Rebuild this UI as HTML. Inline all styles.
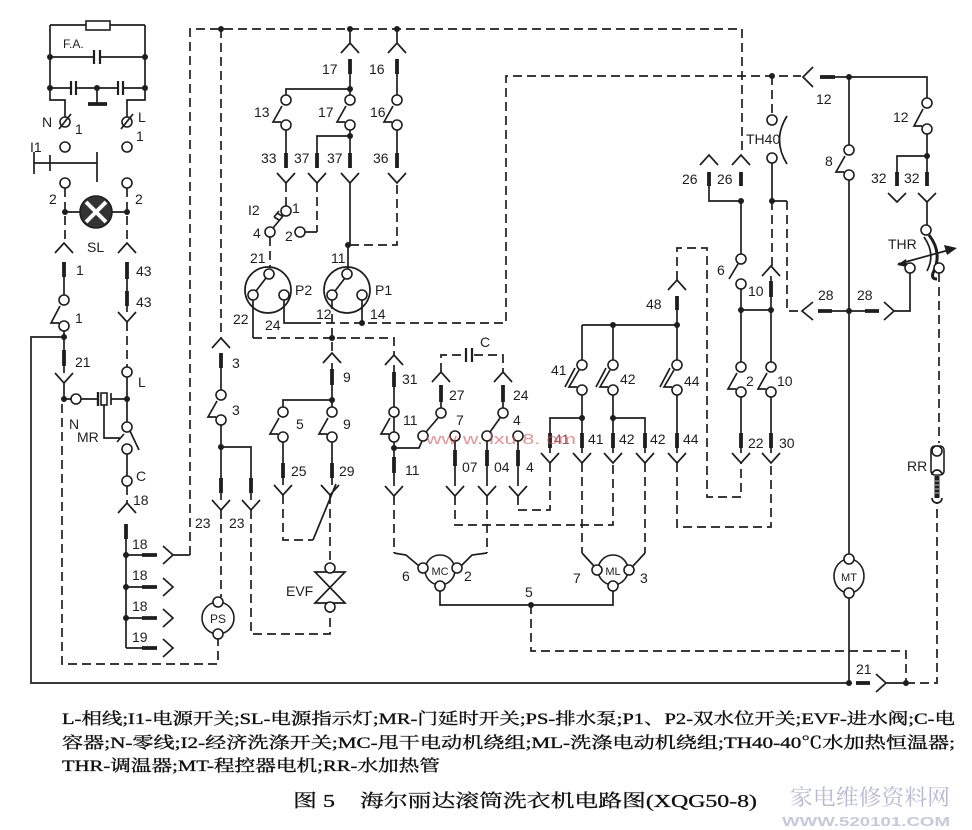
<!DOCTYPE html>
<html><head><meta charset="utf-8"><style>
html,body{margin:0;padding:0;background:#fff}
svg{display:block}
.s{stroke:#1e1e1e;stroke-width:1.7;fill:none}
.d{stroke:#1e1e1e;stroke-width:1.7;fill:none;stroke-dasharray:9 5}
.b{stroke:#1e1e1e;stroke-width:3.8;fill:none}
.c{fill:#fff;stroke:#1e1e1e;stroke-width:1.6}
.k{fill:#1e1e1e}
text{font-family:"Liberation Sans Narrow","Liberation Sans",sans-serif;font-size:14px;fill:#1e1e1e}
.t{font-family:"Liberation Serif","Noto Serif CJK SC",serif;font-size:16px;fill:#111;stroke:#111;stroke-width:0.35}
.cap{font-family:"Liberation Serif","Noto Serif CJK SC",serif;font-size:18px;fill:#111;stroke:#111;stroke-width:0.3}
</style></head><body>
<svg width="972" height="830" viewBox="0 0 972 830" xmlns="http://www.w3.org/2000/svg">
<rect width="972" height="830" fill="#fff"/>

<!-- ===== top-left power / filter ===== -->
<path class="s" d="M50 25H86M110 25H145M50 25V100H65V117M145 25V100H127V117"/>
<rect x="86" y="21" width="24" height="9" class="c"/>
<path class="s" d="M50 57H94M100 57H145"/>
<path class="s" style="stroke-width:2.2" d="M94 50V64M100 50V64"/>
<path class="s" d="M50 88H71M76 88H118M123 88H145M97 88V103"/>
<path class="s" style="stroke-width:2.2" d="M71 81V95M76 81V95M118 81V95M123 81V95"/>
<path class="b" d="M88 104H107"/>
<path class="s" d="M34 163H97M34 152V174M50 155V171M97 152V182"/>
<path class="d" d="M65 188V243M127 188V243"/>
<path class="s" d="M65 212H80M112 212H127"/>
<path class="s" d="M55 253L64 243L73 253M118 253L127 243L136 253"/>
<path class="b" d="M64 262V277M127 262V279M127 291V306"/>
<path class="s" d="M64 277V300M127 279V291M127 306V312M118 312L127 322L136 312"/>
<path class="s" d="M60 306L51 323H59"/>
<path class="s" d="M64 326V350M64 337H31V683H849"/>
<path class="b" d="M64 350V366"/>
<path class="s" d="M64 366V373M55 373L64 383L73 373M64 383V399H76M81 399H97M111 399H127"/>
<path class="s" style="stroke-width:2.4" d="M98 392V406"/>
<rect x="101" y="393" width="6" height="12" class="c"/>
<path class="s" d="M111 393V405"/>
<path class="s" d="M104 405V438H120M117 442L124 434"/>
<path class="d" d="M127 322V367"/>
<path class="s" d="M127 372V427M127 449V481M130 431L139 450"/>
<path class="d" d="M127 486V503"/>
<path class="s" d="M118 513L127 503L136 513"/>
<path class="b" d="M126 524V539"/>
<path class="s" d="M126 539V648M126 555H142M126 587H142M126 618H142M126 648H142"/>
<path class="b" d="M142 555H157M142 587H157M142 618H157M142 648H157"/>
<path class="s" d="M163 546L173 555L163 564M163 578L173 587L163 596M163 609L173 618L163 627M163 639L173 648L163 657M173 555H190"/>
<path class="d" d="M190 555V29H742V155"/>
<path class="d" d="M62 404V664H218V639"/>
<circle cx="218" cy="618" r="16" class="c"/>

<!-- ===== column 3 / PS / 23 ===== -->
<path class="d" d="M221 29V338"/>
<path class="s" d="M212 348L221 338L230 348"/>
<path class="b" d="M221 353V368M251 478V493M221 478V493"/>
<path class="s" d="M221 368V395M221 420V478M221 447H251V478M217 401L208 417H216"/>
<path class="s" d="M221 493V500M251 493V500M212 500L221 510L230 500M242 500L251 510L260 500"/>
<path class="d" d="M221 510V597M251 510V634H330V612"/>

<!-- EVF -->
<path class="s" d="M315 572H345L315 603H345Z"/>
<path class="s" d="M321 485L330 495L339 485M274 485L283 495L292 485M313 540L336 484"/>
<path class="d" d="M330 495V563M283 495V540H313"/>

<!-- column 9 / 5 -->
<path class="d" d="M332 300V353"/>
<path class="s" d="M323 363L332 353L341 363"/>
<path class="b" d="M332 369V385M283 463V478M332 463V478"/>
<path class="s" d="M332 363V369M332 385V412M332 400H283V412M283 437V463M332 437V463M283 478V485M332 478V485M279 418L270 434H278M328 418L319 434H327"/>

<!-- column 31 / 11 -->
<path class="s" d="M253 300V338"/>
<path class="d" d="M253 338H394V355"/>
<path class="s" d="M385 365L394 355L403 365"/>
<path class="b" d="M394 372V387M394 457V473"/>
<path class="s" d="M394 365V372M394 387V437M394 442V457M394 448H419L422 441M390 418L381 434H389M394 473V486M385 486L394 496L403 486"/>
<path class="d" d="M394 496V553"/>
<path class="s" d="M394 553L406 555L419 566"/>

<!-- capacitor 27 / 24 -->
<path class="d" d="M441 372V355H465M474 355H503V372"/>
<path class="s" style="stroke-width:2.2" d="M466 348V362M472 348V362"/>
<path class="s" d="M432 382L441 372L450 382M494 382L503 372L512 382"/>
<path class="b" d="M441 385V402M503 385V402M455 450V466M487 450V466M518 450V466"/>
<path class="s" d="M441 402V408M503 402V408M438 418L426 432M500 418L490 432M455 441V486M487 441V486M518 441V486"/>
<path class="s" d="M446 486L455 496L464 486M478 486L487 496L496 486M509 486L518 496L527 486"/>
<path class="d" d="M455 496V525H613V463M487 496V553M518 496V510H550V463"/>
<path class="s" d="M487 553L472 555L461 566"/>

<!-- MC / ML -->
<circle cx="440" cy="570" r="15" class="c"/>
<circle cx="613" cy="570" r="15" class="c"/>
<path class="s" d="M440 591V605H613V591"/>
<path class="d" d="M582 463V553M645 463V553"/>
<path class="s" d="M582 553L594 566M645 553L633 566"/>
<path class="d" d="M531 605V651H906V683"/>

<!-- 41 42 44 -->
<path class="s" d="M582 325H677M582 325V360M613 325V360M677 310V360M582 395V433M613 395V433M677 395V433M582 418H550V433M613 418H645V433"/>
<path class="s" d="M579 370L569 387H577M575 368L565 387M610 370L600 387H608M606 368L596 387M674 370L664 387H672M670 368L660 387"/>
<path class="b" d="M550 433V448M582 433V448M613 433V448M645 433V448M677 433V448"/>
<path class="s" d="M550 448V453M582 448V453M613 448V453M645 448V453M677 448V453M541 453L550 463L559 453M573 453L582 463L591 453M604 453L613 463L622 453M636 453L645 463L654 453M668 453L677 463L686 453"/>
<path class="d" d="M677 463V527H771V463"/>
<path class="s" d="M668 290L677 280L686 290"/>
<path class="b" d="M677 296V310"/>
<path class="d" d="M677 280V248H707V497H741V463"/>

<!-- column 741 -->
<path class="s" d="M709 185V201H741V254M741 289V362M741 310H771M741 397V433M741 448V453"/>
<path class="b" d="M709 172V186M741 172V186M741 433V448"/>
<path class="s" d="M700 165L709 155L718 165M732 165L741 155L750 165M738 264L729 279M737 373L728 389H736M732 453L741 463L750 453"/>

<!-- column 771 / TH40 -->
<path class="d" d="M772 76V115"/>
<path class="s" d="M787 116Q772 140 787 164"/>
<path class="s" d="M772 163V201H787"/>
<path class="d" d="M787 201V311H801M772 201V266"/>
<path class="s" d="M762 276L771 266L780 276"/>
<path class="b" d="M771 281V297M771 433V448"/>
<path class="s" d="M771 276V281M771 297V362M771 397V433M771 448V453M767 373L758 389H766M762 453L771 463L780 453"/>

<!-- 28 connectors -->
<path class="s" d="M813 302L802 311L813 320M832 311H865M884 302L894 311L884 320M894 311H910V273"/>
<path class="b" d="M818 311H832M865 311H879"/>

<!-- column 849 / MT -->
<path class="s" d="M849 77V145M849 180V559M849 592V683M845 156L836 172H844"/>
<ellipse cx="849" cy="576" rx="15" ry="17" class="c"/>
<path class="b" d="M856 683H870"/>
<path class="s" d="M876 674L886 683L876 692M886 683H906"/>
<path class="d" d="M906 683H937V502"/>

<!-- top right / 12 / 32 / THR -->
<path class="d" d="M312 323H506V76H801"/>
<path class="s" d="M813 67L803 77L813 87M835 77H927V98"/>
<path class="b" d="M820 77H835"/>
<path class="s" d="M923 109L914 126H922M927 134V172M927 156H897V172"/>
<path class="b" d="M897 172V186M927 172V186"/>
<path class="s" d="M888 193L897 202L906 193M918 193L927 202L936 193M927 202V225"/>
<path class="s" style="stroke-width:3" d="M929 235Q943 253 933 273Q931 279 937 279"/>
<path class="s" d="M924 237Q936 254 927 271"/>
<path class="s" d="M898 264L949 250"/>
<polygon points="957,248 944,245 947,255" class="k"/>
<polygon points="897,265 906,259 907,267" class="k"/>
<path class="d" d="M939 273V443"/>
<!-- RR -->
<rect x="931" y="446" width="13" height="29" rx="4" class="c"/>
<path class="s" d="M932 475A5 5 0 0 1 942 475"/>
<path class="s" style="stroke-width:5" d="M937 476V498"/>
<path class="s" style="stroke:#fff;stroke-width:0.8" d="M935 481H939M935 485H939M935 489H939M935 493H939"/>
<path class="s" d="M932 498A5 5 0 0 0 942 498"/>

<!-- top: 17 16 13 -->
<path class="s" d="M341 53L350 43L359 53M388 53L397 43L406 53M350 29V43M397 29V43"/>
<path class="b" d="M350 59V74M397 59V74M286 153V168M317 153V168M350 153V168M397 153V168"/>
<path class="s" d="M350 74V95M397 74V95M350 89H286V95M282 106L273 122H281M346 106L337 122H345M393 106L384 122H392M286 130V153M350 130V153M397 130V153M350 136H317V153"/>
<path class="s" d="M277 173L286 183L295 173M308 173L317 183L326 173M341 173L350 183L359 173M388 173L397 183L406 173"/>
<path class="d" d="M286 183V206M317 183V232"/>
<path class="s" d="M305 232H317M350 183V245M348 245V269"/>
<path class="d" d="M350 245H397V183"/>
<path class="s" d="M283 216L273 228M279 220l-5 -3M282 216l-5 -3M274 217l5 -6"/>
<path class="d" d="M270 237V268"/>
<!-- P2 P1 -->
<circle cx="268" cy="290" r="23" class="s"/>
<circle cx="347" cy="290" r="23" class="s"/>
<path class="s" d="M256 291L266 278M335 291L345 278M284 300V323H312M362 300V323"/>

<!-- open circles -->
<g class="c">
<circle cx="65" cy="122" r="5"/><circle cx="127" cy="122" r="5"/>
<circle cx="65" cy="147" r="5"/><circle cx="127" cy="147" r="5"/>
<circle cx="65" cy="183" r="5"/><circle cx="127" cy="183" r="5"/>
<circle cx="64" cy="300" r="5"/><circle cx="64" cy="326" r="5"/>
<circle cx="76" cy="399" r="5"/>
<circle cx="127" cy="372" r="5"/><circle cx="127" cy="427" r="5"/><circle cx="127" cy="449" r="5"/><circle cx="127" cy="481" r="5"/>
<circle cx="218" cy="602" r="5"/><circle cx="218" cy="634" r="5"/>
<circle cx="221" cy="395" r="5"/><circle cx="221" cy="420" r="5"/>
<circle cx="330" cy="568" r="5"/><circle cx="330" cy="607" r="5"/>
<circle cx="283" cy="412" r="5"/><circle cx="283" cy="437" r="5"/><circle cx="332" cy="412" r="5"/><circle cx="332" cy="437" r="5"/>
<circle cx="394" cy="412" r="5"/><circle cx="394" cy="437" r="5"/>
<circle cx="441" cy="413" r="5"/><circle cx="503" cy="413" r="5"/>
<circle cx="423" cy="436" r="5"/><circle cx="455" cy="436" r="5"/><circle cx="487" cy="436" r="5"/><circle cx="518" cy="436" r="5"/>
<circle cx="423" cy="568" r="5"/><circle cx="457" cy="568" r="5"/><circle cx="440" cy="586" r="5"/>
<circle cx="597" cy="570" r="5"/><circle cx="629" cy="570" r="5"/><circle cx="613" cy="586" r="5"/>
<circle cx="582" cy="365" r="5"/><circle cx="582" cy="390" r="5"/><circle cx="613" cy="365" r="5"/><circle cx="613" cy="390" r="5"/><circle cx="677" cy="365" r="5"/><circle cx="677" cy="390" r="5"/>
<circle cx="741" cy="259" r="5"/><circle cx="741" cy="284" r="5"/><circle cx="741" cy="367" r="5"/><circle cx="741" cy="392" r="5"/>
<circle cx="772" cy="120" r="5"/><circle cx="772" cy="158" r="5"/>
<circle cx="771" cy="367" r="5"/><circle cx="771" cy="392" r="5"/>
<circle cx="910" cy="268" r="5"/><circle cx="939" cy="268" r="5"/><circle cx="926" cy="230" r="5"/>
<circle cx="849" cy="150" r="5"/><circle cx="849" cy="175" r="5"/>
<circle cx="849" cy="559" r="5"/><circle cx="849" cy="593" r="5"/>
<circle cx="927" cy="103" r="5"/><circle cx="927" cy="129" r="5"/>
<circle cx="937" cy="451" r="5"/>
<circle cx="286" cy="100" r="5"/><circle cx="286" cy="125" r="5"/><circle cx="350" cy="100" r="5"/><circle cx="350" cy="125" r="5"/><circle cx="397" cy="100" r="5"/><circle cx="397" cy="125" r="5"/>
<circle cx="286" cy="211" r="5"/><circle cx="270" cy="232" r="5"/><circle cx="300" cy="232" r="5"/>
<circle cx="269" cy="274" r="5"/><circle cx="253" cy="295" r="5"/><circle cx="284" cy="295" r="5"/>
<circle cx="347" cy="274" r="5"/><circle cx="332" cy="295" r="5"/><circle cx="362" cy="295" r="5"/>
</g>
<path class="s" d="M59 129L71 114M121 129L133 114"/>

<!-- SL lamp -->
<circle cx="96" cy="212" r="16" fill="#333" stroke="#1e1e1e" stroke-width="1.6"/>
<path d="M86 202L106 222M106 202L86 222" stroke="#fff" stroke-width="4"/>

<!-- dots -->
<g class="k">
<circle cx="50" cy="57" r="3"/><circle cx="145" cy="57" r="3"/><circle cx="50" cy="88" r="3"/><circle cx="145" cy="88" r="3"/><circle cx="97" cy="88" r="3"/>
<circle cx="65" cy="212" r="3"/><circle cx="127" cy="212" r="3"/>
<circle cx="64" cy="337" r="3"/><circle cx="64" cy="399" r="3"/><circle cx="127" cy="399" r="3"/>
<circle cx="126" cy="555" r="3"/><circle cx="126" cy="587" r="3"/><circle cx="126" cy="618" r="3"/>
<circle cx="221" cy="29" r="3"/><circle cx="350" cy="29" r="3"/><circle cx="397" cy="29" r="3"/>
<circle cx="350" cy="89" r="3"/><circle cx="350" cy="136" r="3"/><circle cx="348" cy="245" r="3"/>
<circle cx="362" cy="323" r="3"/><circle cx="332" cy="338" r="3"/>
<circle cx="221" cy="447" r="3"/><circle cx="332" cy="400" r="3"/><circle cx="394" cy="448" r="3"/>
<circle cx="531" cy="605" r="3"/>
<circle cx="613" cy="325" r="3"/><circle cx="677" cy="325" r="3"/><circle cx="582" cy="418" r="3"/><circle cx="613" cy="418" r="3"/>
<circle cx="741" cy="201" r="3"/><circle cx="772" cy="201" r="3"/><circle cx="741" cy="310" r="3"/><circle cx="771" cy="310" r="3"/>
<circle cx="772" cy="76" r="3"/><circle cx="849" cy="77" r="3"/><circle cx="927" cy="156" r="3"/>
<circle cx="849" cy="311" r="3"/><circle cx="849" cy="683" r="3"/><circle cx="906" cy="683" r="3"/>
</g>

<!-- labels -->
<g>
<text x="63" y="48" style="font-size:12px">F.A.</text>
<text x="42" y="127">N</text><text x="75" y="134">1</text><text x="138" y="122">L</text><text x="136" y="141">1</text>
<text x="30" y="152">I1</text>
<text x="49" y="204">2</text><text x="135" y="204">2</text>
<text x="87" y="252">SL</text>
<text x="76" y="275">1</text><text x="136" y="276">43</text><text x="136" y="307">43</text><text x="75" y="323">1</text>
<text x="75" y="367">21</text>
<text x="69" y="429">N</text><text x="77" y="442">MR</text>
<text x="138" y="387">L</text><text x="136" y="481">C</text><text x="133" y="505">18</text>
<text x="132" y="549">18</text><text x="132" y="580">18</text><text x="132" y="611">18</text>
<text x="132" y="642">19</text>
<text x="218" y="623" text-anchor="middle" style="font-size:12px">PS</text>
<text x="232" y="368">3</text><text x="232" y="415">3</text>
<text x="195" y="528">23</text><text x="229" y="528">23</text>
<text x="286" y="596">EVF</text>
<text x="343" y="382">9</text><text x="296" y="429">5</text><text x="343" y="429">9</text>
<text x="291" y="476">25</text><text x="339" y="476">29</text>
<text x="402" y="384">31</text><text x="403" y="425">11</text><text x="405" y="475">11</text>
<text x="480" y="347">C</text>
<text x="449" y="400">27</text><text x="513" y="400">24</text>
<text x="456" y="425">7</text><text x="513" y="425">4</text>
<text x="462" y="472">07</text><text x="494" y="472">04</text><text x="526" y="472">4</text>
<text x="402" y="581">6</text><text x="464" y="581">2</text>
<text x="440" y="575" text-anchor="middle" style="font-size:11px">MC</text>
<text x="525" y="597">5</text>
<text x="573" y="583">7</text><text x="640" y="583">3</text>
<text x="613" y="575" text-anchor="middle" style="font-size:11px">ML</text>
<text x="551" y="375">41</text><text x="620" y="384">42</text><text x="684" y="386">44</text>
<text x="554" y="444" style="fill:#c0404a">41</text>
<text x="588" y="444">41</text><text x="619" y="444">42</text><text x="650" y="444">42</text><text x="683" y="444">44</text>
<text x="646" y="309">48</text>
<text x="682" y="184">26</text><text x="717" y="184">26</text>
<text x="746" y="144">TH40</text>
<text x="717" y="275">6</text><text x="748" y="296">10</text>
<text x="746" y="386">2</text><text x="777" y="386">10</text>
<text x="748" y="448">22</text><text x="779" y="448">30</text>
<text x="816" y="104">12</text><text x="825" y="166">8</text>
<text x="893" y="122">12</text><text x="871" y="183">32</text><text x="904" y="183">32</text>
<text x="888" y="249">THR</text>
<text x="818" y="300">28</text><text x="857" y="300">28</text>
<text x="849" y="581" text-anchor="middle" style="font-size:11px">MT</text>
<text x="907" y="471">RR</text>
<text x="856" y="674">21</text>
<text x="322" y="74">17</text><text x="369" y="74">16</text>
<text x="254" y="117">13</text><text x="318" y="117">17</text><text x="370" y="117">16</text>
<text x="261" y="163">33</text><text x="294" y="163">37</text><text x="327" y="163">37</text><text x="373" y="163">36</text>
<text x="248" y="215">I2</text><text x="292" y="213">1</text><text x="253" y="238">4</text><text x="285" y="241">2</text>
<text x="250" y="263">21</text><text x="331" y="263">11</text>
<text x="295" y="295">P2</text><text x="375" y="295">P1</text>
<text x="233" y="324">22</text><text x="265" y="330">24</text>
<text x="316" y="319">12</text><text x="370" y="319">14</text>
</g>

<!-- red watermark fragments -->
<text x="426" y="444" style="fill:#d05050;font-size:15px;opacity:.6" textLength="150" lengthAdjust="spacingAndGlyphs">ww  w.  lxu  8.  om</text>

<!-- legend text -->
<text class="t" x="62" y="724" textLength="893" lengthAdjust="spacingAndGlyphs">L-相线;I1-电源开关;SL-电源指示灯;MR-门延时开关;PS-排水泵;P1、P2-双水位开关;EVF-进水阀;C-电</text>
<text class="t" x="62" y="748" textLength="893" lengthAdjust="spacingAndGlyphs">容器;N-零线;I2-经济洗涤开关;MC-甩干电动机绕组;ML-洗涤电动机绕组;TH40-40℃水加热恒温器;</text>
<text class="t" x="62" y="771" textLength="378" lengthAdjust="spacingAndGlyphs">THR-调温器;MT-程控器电机;RR-水加热管</text>
<text class="cap" x="293" y="807" textLength="42" lengthAdjust="spacingAndGlyphs">图 5</text>
<text class="cap" x="360" y="807" textLength="397" lengthAdjust="spacingAndGlyphs">海尔丽达滚筒洗衣机电路图(XQG50-8)</text>
<text x="790" y="805" style="font-family:'Liberation Serif','Noto Serif CJK SC',serif;font-size:22px;fill:#b7b8d2" textLength="160" lengthAdjust="spacingAndGlyphs">家电维修资料网</text>
<text x="782" y="826" style="font-family:'Liberation Sans',sans-serif;font-size:13px;font-weight:bold;fill:#c6c9dc" textLength="168" lengthAdjust="spacingAndGlyphs">WWW.520101.COM</text>
</svg>
</body></html>
